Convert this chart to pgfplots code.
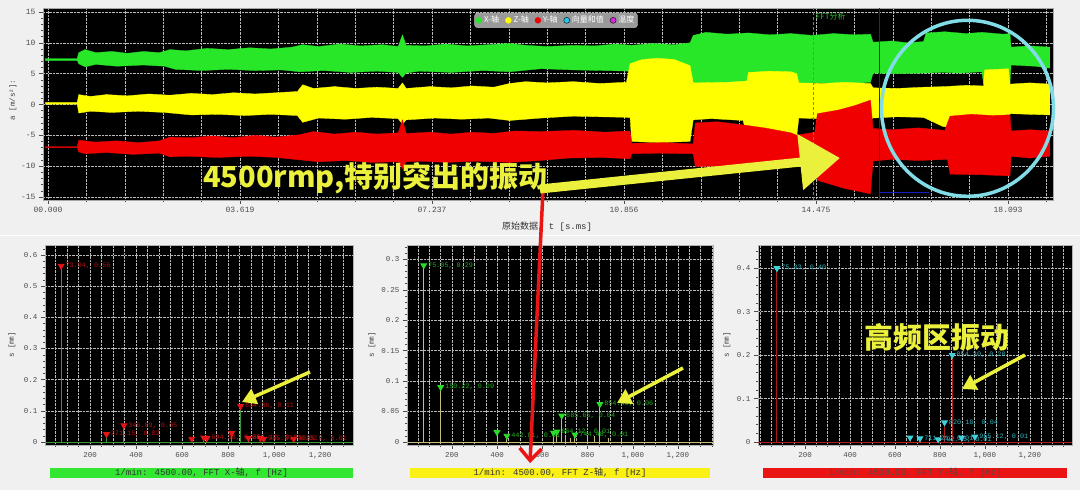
\documentclass[border=0pt]{standalone}
\usepackage{fontspec}
\setmainfont{Liberation Mono}
\newfontfamily\cjk{Noto Sans CJK SC}
\usepackage{pgfplots}
\pgfplotsset{compat=1.18}
\usetikzlibrary{arrows.meta}

\definecolor{bgcol}{RGB}{240,240,240}
\definecolor{sigX}{RGB}{40,230,40}
\definecolor{sigZ}{RGB}{255,255,0}
\definecolor{sigY}{RGB}{240,0,0}
\definecolor{vecC}{RGB}{40,200,230}
\definecolor{tmpM}{RGB}{220,40,220}
\definecolor{fftgreen}{RGB}{40,190,40}
\definecolor{curblue}{RGB}{20,30,200}
\definecolor{stemX}{RGB}{60,150,60}
\definecolor{markX}{RGB}{230,20,20}
\definecolor{stemZ}{RGB}{200,190,120}
\definecolor{markZ}{RGB}{40,220,40}
\definecolor{stemY}{RGB}{170,30,30}
\definecolor{markY}{RGB}{60,210,220}
\definecolor{annoY}{RGB}{235,240,60}
\definecolor{annoC}{RGB}{130,220,230}
\definecolor{barX}{RGB}{50,230,50}
\definecolor{barZ}{RGB}{250,240,20}
\definecolor{barY}{RGB}{235,20,20}

\pgfplotsset{
  fft/.style={
    anchor=south west, scale only axis, height=200pt,
    axis background/.style={fill=black},
    axis line style={draw=gray!60},
    tick pos=left, tick align=outside,
    xtick={200,400,600,800,1000,1200},
    minor xtick={0,50,...,1400},
    xmajorgrids, xminorgrids, ymajorgrids,
    major grid style={gray!55, densely dotted, line width=0.4pt},
    minor grid style={gray!55, densely dotted, line width=0.4pt},
    major tick length=4pt, minor tick length=2pt,
    tick style={gray!60!black, line width=0.4pt},
    ticklabel style={font=\fontsize{7.5}{8}\selectfont, text=black!70},
    /pgf/number format/assume math mode=true,
    /pgf/number format/fixed, /pgf/number format/precision=2,
    /pgf/number format/1000 sep={,},
    scaled ticks=false,
  },
  % peak markers with their text to the right
  lbl/.style={scatter, point meta=explicit symbolic,
    scatter/@pre marker code/.code={%
      \node[anchor=west, inner sep=0pt, font=\fontsize{6.8}{7}\selectfont, text=#1] at (4pt,0pt) {\pgfplotspointmeta};},
    scatter/@post marker code/.code={}},
}

\begin{document}
\begin{tikzpicture}
\fill[bgcol] (0pt,0pt) rectangle (1080pt,490pt);
\useasboundingbox (0pt,0pt) rectangle (1080pt,490pt);
\draw[white, line width=1pt] (0pt,254pt) -- (1080pt,254pt);

% ---------------- time signal ----------------
\begin{axis}[
  at={(43pt,290pt)}, anchor=south west, scale only axis,
  width=1010pt, height=192pt,
  xmin=-0.094, xmax=18.94, ymin=-15.5, ymax=15.65,
  axis background/.style={fill=black},
  axis line style={draw=gray!70},
  tick pos=left, tick align=outside,
  xtick={0,3.6186,7.2372,10.8558,14.4744,18.093},
  xticklabels={00.000,03.619,07.237,10.856,14.475,18.093},
  minor xtick={0,0.72372,...,18.9},
  ytick={-15,-10,-5,0,5,10,15},
  minor ytick={-15,-14,...,15},
  xmajorgrids, xminorgrids, ymajorgrids,
  major grid style={gray!55, densely dotted, line width=0.4pt},
  minor grid style={gray!55, densely dotted, line width=0.4pt},
  major tick length=4pt, minor tick length=2pt,
  tick style={gray!60!black, line width=0.4pt},
  ticklabel style={font=\fontsize{8}{9}\selectfont, text=black!70},
  /pgf/number format/assume math mode=true,
  legend columns=5,
  legend style={at={(0.508,0.975)}, anchor=north, fill=gray!80, draw=gray!55,
    rounded corners=3pt, font=\cjk\fontsize{8}{9}\selectfont, text=white,
    inner sep=1.2pt, /tikz/every even column/.append style={column sep=4pt}},
  legend image code/.code={\fill[#1] (0pt,-3pt) rectangle (6pt,3pt);},
]
% X axis (green)
\addplot[fill=sigX, draw=sigX, line width=0.3pt] coordinates {
(-0.05,7.45)(0.55,7.45)(0.58,8.4)(0.7,8.9)(0.9,8.4)(1.2,8.6)(1.5,8.3)(1.8,8.6)(2.1,8.4)(2.3,8.9)
(2.6,8.7)(3.0,9.1)(3.4,8.9)(3.8,9.2)(4.2,9.0)(4.6,9.3)(4.8,9.7)(5.1,9.4)(5.5,9.8)(5.9,9.5)(6.3,9.7)
(6.6,9.4)(6.68,11.3)(6.75,9.6)(7.1,9.5)(7.5,9.8)(7.9,9.5)(8.3,9.7)(8.7,9.9)(9.0,9.6)(9.4,9.4)(9.9,9.6)
(10.3,9.5)(10.7,9.8)(11.0,9.6)(11.4,9.9)(11.8,9.7)(12.1,10.0)(12.16,11.2)(12.4,11.7)(12.8,11.4)
(13.2,11.6)(13.6,11.3)(14.0,11.5)(14.4,11.2)(14.8,11.5)(15.2,11.3)(15.5,11.4)(15.55,10.1)(15.9,10.3)
(16.2,10.0)(16.5,10.2)(16.55,11.6)(16.9,11.8)(17.3,11.5)(17.6,11.7)(18.0,11.4)(18.13,11.5)(18.15,9.3)
(18.5,9.5)(18.88,9.3)
(18.88,5.9)(18.6,6.2)(18.15,6.4)(18.13,3.4)(17.63,3.5)(17.6,5.3)(17.2,5.1)(16.87,5.2)(16.5,5.1)
(16.0,5.0)(15.55,5.1)(15.5,3.6)(15.0,3.3)(14.5,3.5)(14.1,3.4)(13.6,3.2)(13.0,3.5)(12.5,3.3)(12.16,3.4)
(12.1,5.4)(11.5,5.5)(10.97,5.4)(10.5,5.5)(9.9,5.6)(9.3,5.8)(8.7,5.3)(8.2,5.5)(7.6,5.2)(7.0,5.4)
(6.75,5.1)(6.68,4.4)(6.6,5.2)(6.2,5.4)(5.7,5.2)(5.2,5.5)(4.75,5.3)(4.4,5.6)(3.9,5.5)(3.4,5.7)(2.9,5.5)
(2.4,5.7)(2.2,6.2)(1.8,6.4)(1.3,6.2)(0.9,6.5)(0.7,6.1)(0.58,6.6)(0.55,7.15)(-0.05,7.15)
} -- cycle;
% Z axis (yellow)
\addplot[fill=sigZ, draw=sigZ, line width=0.3pt] coordinates {
(-0.05,0.3)(0.55,0.3)(0.58,1.6)(0.8,1.3)(1.1,1.6)(1.5,1.4)(1.9,1.7)(2.3,1.5)(2.7,1.8)(3.1,1.6)(3.5,1.9)
(3.9,1.7)(4.3,1.9)(4.7,2.1)(4.8,3.2)(5.0,2.6)(5.4,2.9)(5.8,2.6)(6.2,2.8)(6.6,2.6)(6.68,3.5)(6.75,2.6)
(7.2,2.9)(7.6,2.7)(8.0,3.0)(8.4,2.8)(8.7,3.4)(9.0,3.7)(9.4,3.5)(9.9,3.7)(10.4,3.4)(10.9,3.6)(10.97,6.6)
(11.2,7.3)(11.5,7.5)(11.8,7.3)(12.1,6.3)(12.16,3.5)(12.8,3.6)(13.17,3.8)(13.2,5.2)(13.6,5.4)(14.0,5.3)
(14.11,5.0)(14.15,3.5)(14.6,3.4)(15.0,3.6)(15.5,3.4)(15.55,2.7)(16.0,2.6)(16.5,2.8)(16.9,2.9)(17.3,3.1)
(17.63,3.0)(17.65,5.6)(18.1,5.8)(18.13,3.3)(18.5,3.5)(18.88,3.3)
(18.88,-1.7)(18.5,-1.6)(18.15,-1.5)(18.13,-1.6)(17.6,-2.1)(17.2,-3.8)(16.87,-3.6)(16.5,-2.1)(16.0,-2.0)
(15.55,-2.2)(15.5,-2.5)(14.5,-2.3)(14.15,-2.2)(14.11,-5.2)(13.6,-5.4)(13.17,-5.2)(13.1,-2.6)(12.5,-2.3)
(12.16,-2.5)(12.1,-6.0)(11.5,-6.2)(11.0,-6.0)(10.97,-2.1)(10.4,-2.0)(9.9,-1.9)(9.3,-2.2)(8.7,-2.6)
(8.3,-2.2)(7.8,-2.4)(7.3,-2.2)(6.75,-2.5)(6.68,-3.2)(6.6,-2.3)(6.1,-2.1)(5.6,-2.4)(5.1,-2.2)(4.8,-2.9)
(4.7,-1.8)(4.2,-1.6)(3.7,-1.8)(3.2,-1.6)(2.7,-1.7)(2.2,-1.3)(1.7,-1.1)(1.2,-1.3)(0.8,-1.1)(0.58,-1.4)
(0.55,0.05)(-0.05,0.05)
} -- cycle;
% Y axis (red)
\addplot[fill=sigY, draw=sigY, line width=0.3pt] coordinates {
(-0.05,-6.85)(0.55,-6.85)(0.58,-5.8)(0.9,-6.1)(1.3,-5.9)(1.7,-6.2)(2.1,-5.9)(2.3,-5.3)(2.7,-5.4)
(3.1,-5.1)(3.5,-5.4)(3.9,-5.0)(4.3,-5.3)(4.75,-4.9)(5.0,-4.4)(5.4,-4.8)(5.8,-4.5)(6.2,-4.8)(6.6,-4.6)
(6.68,-2.5)(6.75,-4.7)(7.2,-4.5)(7.6,-4.8)(8.0,-4.5)(8.4,-4.7)(8.8,-4.3)(9.3,-4.4)(9.9,-4.2)(10.5,-4.5)
(10.97,-4.3)(11.0,-6.3)(11.6,-6.2)(12.16,-6.4)(12.2,-3.0)(12.6,-2.8)(13.0,-3.2)(13.5,-3.8)(14.0,-4.6)
(14.11,-5.0)(14.45,-4.5)(14.5,-1.5)(14.9,-0.9)(15.2,-0.2)(15.5,0.7)(15.55,-3.9)(15.9,-4.1)(16.4,-3.8)
(16.9,-4.2)(17.0,-1.9)(17.4,-1.6)(17.8,-1.8)(18.13,-1.7)(18.15,-4.3)(18.5,-4.1)(18.88,-4.3)
(18.88,-8.4)(18.5,-8.7)(18.15,-8.4)(18.13,-11.6)(17.6,-11.4)(17.0,-11.3)(16.95,-8.9)(16.4,-9.1)
(15.9,-8.9)(15.55,-9.2)(15.5,-14.5)(15.0,-13.6)(14.5,-12.3)(14.45,-9.0)(14.11,-9.1)(13.6,-10.1)
(13.0,-10.3)(12.5,-10.0)(12.2,-10.1)(12.16,-8.0)(11.5,-7.9)(11.0,-8.0)(10.97,-8.8)(10.4,-8.6)(9.8,-8.7)
(9.27,-9.1)(8.7,-9.4)(8.1,-9.2)(7.5,-9.4)(7.0,-9.2)(6.75,-9.3)(6.68,-10.4)(6.6,-9.3)(6.1,-9.4)
(5.6,-9.1)(5.1,-9.3)(4.75,-9.0)(4.3,-8.6)(3.8,-8.4)(3.2,-8.6)(2.6,-8.4)(2.3,-8.5)(2.1,-7.9)(1.6,-8.1)
(1.1,-7.8)(0.7,-8.0)(0.58,-7.7)(0.55,-7.0)(-0.05,-7.0)
} -- cycle;
\addlegendimage{fill=vecC}
\addlegendimage{fill=tmpM}
\legend{X-轴, Z-轴, Y-轴, 向量和值, 温度}
% cursors
\addplot[forget plot, fftgreen, densely dashed, line width=0.8pt] coordinates {(14.42,-15.5)(14.42,15.65)};
\addplot[forget plot, curblue, line width=0.8pt] coordinates {(15.67,-15.5)(15.67,15.65)};
\addplot[forget plot, curblue, line width=1.5pt] coordinates {(15.67,-14.3)(16.6,-14.3)};
\node[anchor=west, text=fftgreen, font=\cjk\fontsize{8}{9}\selectfont, inner sep=1pt] at (axis cs:14.45,14.2) {FFT分析};
\end{axis}
\node[rotate=90, font=\fontsize{7.5}{8}\selectfont, text=black!75] at (13pt,390pt) {a [m/s²]:};
\node[font=\fontsize{9}{10}\selectfont, text=black!80] at (547pt,263pt) {{\cjk 原始数据}, t [s.ms]};

% ---------------- FFT X ----------------
\begin{axis}[fft, at={(45pt,45pt)}, width=308pt,
  xmin=4, xmax=1343, ymin=-0.0096, ymax=0.632,
  ytick={0,0.1,0.2,0.3,0.4,0.5,0.6}, minor ytick={0,0.02,...,0.63}]
\addplot[stemX, line width=0.9pt, forget plot] coordinates {(4,0)(1343,0)};
\addplot[ycomb, stemX, line width=0.9pt, mark=triangle*, mark size=3.2pt,
  mark options={rotate=180, fill=markX, draw=markX}, lbl=markX!80!black] coordinates {
(73.94,0.565)[73.94, 0.56]
(271.15,0.025)[271.15, 0.02]
(346.89,0.053)[346.89, 0.05]
(642,0.010)[]
(694,0.014)[]
(708,0.012)[694.38, 0.01]
(816,0.028)[]
(854.36,0.115)[854.36, 0.11]
(888,0.013)[888.12, 0.01]
(940,0.012)[]
(955,0.010)[955.67, 0.02]
(1085,0.010)[1085.9, 0.01]
};
\end{axis}
\node[rotate=90, font=\fontsize{7.5}{8}\selectfont, text=black!75] at (12pt,145pt) {s [{\cjk ㎜}]};
\node[fill=barX, minimum width=303pt, minimum height=10.5pt, inner sep=0pt,
  font=\fontsize{9}{10}\selectfont, text=black!80] at (201.5pt,17pt) {1/min: 4500.00, FFT X-{\cjk 轴}, f [Hz]};

% ---------------- FFT Z ----------------
\begin{axis}[fft, at={(407pt,45pt)}, width=306pt,
  xmin=1, xmax=1355, ymin=-0.005, ymax=0.3235,
  ytick={0,0.05,0.1,0.15,0.2,0.25,0.3}, minor ytick={0,0.01,...,0.32}]
\addplot[stemZ, line width=0.9pt, forget plot] coordinates {(1,0)(1355,0)};
\addplot[ycomb, stemZ, line width=0.7pt, forget plot] coordinates {
(700,0.010)(722,0.006)(800,0.008)(830,0.010)(890,0.007)(950,0.006)};
\addplot[ycomb, stemZ, line width=0.9pt, mark=triangle*, mark size=3.2pt,
  mark options={rotate=180, fill=markZ, draw=markZ}, lbl=markZ!80!black] coordinates {
(75.05,0.29)[75.05, 0.29]
(150.22,0.09)[150.22, 0.09]
(399,0.016)[]
(443,0.010)[442.81, 0.01]
(649,0.015)[]
(664,0.017)[664.12, 0.01]
(685.65,0.043)[685.65, 0.04]
(744,0.012)[744.48, 0.01]
(854.46,0.062)[854.46, 0.06]
};
\end{axis}
\node[rotate=90, font=\fontsize{7.5}{8}\selectfont, text=black!75] at (372pt,145pt) {s [{\cjk ㎜}]};
\node[fill=barZ, minimum width=300pt, minimum height=10.5pt, inner sep=0pt,
  font=\fontsize{9}{10}\selectfont, text=black!80] at (560pt,17pt) {1/min: 4500.00, FFT Z-{\cjk 轴}, f [Hz]};

% ---------------- FFT Y ----------------
\begin{axis}[fft, at={(758pt,45pt)}, width=314pt,
  xmin=-9, xmax=1387, ymin=-0.007, ymax=0.4536,
  ytick={0,0.1,0.2,0.3,0.4}, minor ytick={0,0.02,...,0.45}]
\addplot[stemY, line width=0.9pt, forget plot] coordinates {(-9,0)(1387,0)};
\addplot[ycomb, stemY, line width=0.9pt, mark=triangle*, mark size=3.2pt,
  mark options={rotate=180, fill=markY, draw=markY}, lbl=markY!85!black] coordinates {
(75.03,0.40)[75.03, 0.40]
(667,0.010)[]
(711,0.008)[711.21, 0.01]
(792,0.006)[792.45, 0.01]
(820.18,0.045)[820.18, 0.04]
(854.30,0.20)[854.30, 0.20]
(896,0.010)[]
(955,0.012)[955.12, 0.01]
};
\end{axis}
\node[rotate=90, font=\fontsize{7.5}{8}\selectfont, text=black!75] at (727pt,145pt) {s [{\cjk ㎜}]};
\node[fill=barY, minimum width=304pt, minimum height=10.5pt, inner sep=0pt,
  font=\fontsize{9}{10}\selectfont, text=black!70] at (915pt,17pt) {1/min: 4500.00, FFT Y-{\cjk 轴}, f [Hz]};

% ---------------- annotations ----------------
\draw[annoC, line width=3.5pt] (967.5pt,381.7pt) ellipse (86pt and 88pt);
\draw[barY, line width=3.5pt, -{Straight Barb[length=12pt, width=22pt]}] (543pt,300pt) -- (530pt,27pt);
\draw[annoY, line width=9pt, -{Triangle[length=40pt, width=54pt]}] (540pt,301pt) -- (840pt,332pt);
\node[anchor=west, text=annoY, font=\cjk\bfseries\fontsize{29}{30}\selectfont, inner sep=0pt] at (203pt,312pt) {4500rmp,特别突出的振动};
\node[text=annoY, font=\cjk\bfseries\fontsize{29}{30}\selectfont, inner sep=0pt] at (937pt,153pt) {高频区振动};
\draw[annoY, line width=3.5pt, -{Triangle[length=14pt, width=16pt]}] (310pt,118pt) -- (242pt,88pt);
\draw[annoY, line width=3.5pt, -{Triangle[length=14pt, width=16pt]}] (683pt,122pt) -- (617pt,87pt);
\draw[annoY, line width=3.5pt, -{Triangle[length=14pt, width=16pt]}] (1025pt,135pt) -- (962pt,101pt);
\end{tikzpicture}
\end{document}
